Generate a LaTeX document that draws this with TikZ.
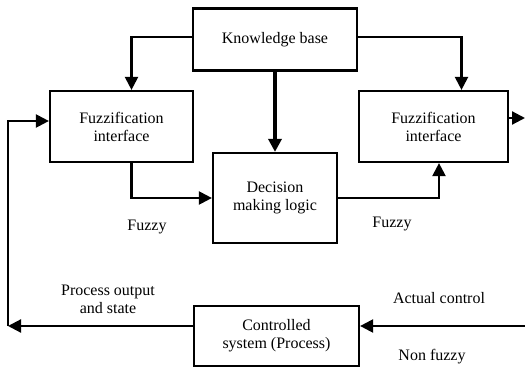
\documentclass[tikz,border=0pt]{standalone}
\usepackage{fontspec}
\setmainfont{Liberation Serif}
\usetikzlibrary{arrows.meta,calc}
\tikzset{
    block/.style = {
        draw,
        line width=2.2pt,
        align=center,
        font=\fontsize{16}{18}\selectfont,
        inner sep=0pt,
        },
    flow/.style = {
        line width=2.2pt,
        -{Triangle[length=13pt, width=13pt]},
        },
    tag/.style = {
        align=center,
        font=\fontsize{16}{18}\selectfont,
        },
}
\begin{document}
\begin{tikzpicture}[x=1pt, y=-1pt]
    \useasboundingbox (0,0) rectangle (525,370);

    \node [block, minimum width=164pt, minimum height=62pt] (kb) at (275,39.5) {Knowledge base};
    \node [block, minimum width=143pt, minimum height=71pt] (fuzzL) at (121.5,126.5) {Fuzzification\\interface};
    \node [block, minimum width=149pt, minimum height=71pt] (fuzzR) at (433.5,126.5) {Fuzzification\\interface};
    \node [block, minimum width=124pt, minimum height=90pt] (dml) at (275,198) {Decision\\making logic};
    \node [block, minimum width=165pt, minimum height=60pt] (ctrl) at (276.5,336) {Controlled\\system (Process)};

    \coordinate (out) at (525,118);
    \coordinate (in) at (525,326);
    \coordinate (fb) at (8,326);

    % knowledge base feeds the three blocks
    \draw [flow] ([yshift=2.5pt]kb.west) -| ([xshift=10pt]fuzzL.north);
    \draw [flow] ([yshift=2.5pt]kb.east) -| ([xshift=28pt]fuzzR.north);
    \draw [flow, line width=3.4pt] (kb.south) -- (dml.north);

    \draw [flow] ([xshift=10pt]fuzzL.south) |- (dml.west);
    \draw [flow] (dml.east) -| ([xshift=5.5pt]fuzzR.south);
    \draw [flow] ([yshift=8.5pt]fuzzR.east) -- (out);

    % loop through the process
    \draw [flow] (in) -- (in -| ctrl.east);
    \draw [flow] ([yshift=10pt]ctrl.west) -- (fb);
    \draw [flow] (fb) -- (fb |- 0,121) -- ([yshift=5.5pt]fuzzL.west);

    \node [tag] (fuzzy1) at (147,227) {Fuzzy};
    \node [tag] (fuzzy2) at (392,224) {Fuzzy};
    \node [tag] (pout) at (108,299) {Process output\\and state};
    \node [tag] (actual) at (439,298) {Actual control};
    \node [tag] (nonfuzzy) at (432,357) {Non fuzzy};
\end{tikzpicture}
\end{document}
